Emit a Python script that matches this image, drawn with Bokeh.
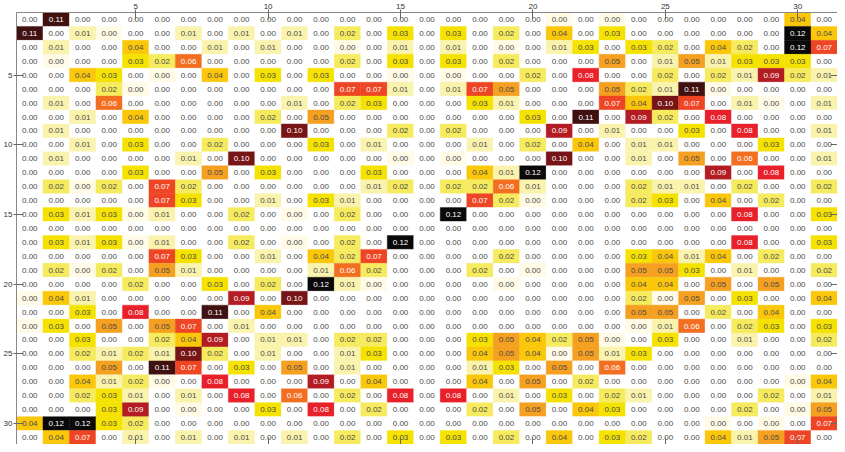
import numpy as np
from bokeh.plotting import figure
from bokeh.models import ColumnDataSource, LinearColorMapper, LinearAxis, FixedTicker, Range1d
from bokeh.transform import transform
from bokeh.embed import file_html
from bokeh.resources import INLINE
from bokeh.core.properties import value

labels = list(range(1, 32))
tick_values = [5, 10, 15, 20, 25, 30]

values = [
    [0, .11, 0, 0, 0, 0, 0, 0, 0, 0, 0, 0, 0, 0, 0, 0, 0, 0, 0, 0, .003, 0, .003, 0, 0, 0, 0, 0, 0, .04, 0],
    [.11, 0, .01, .003, 0, 0, .01, 0, .01, 0, .01, 0, .02, 0, .03, 0, .03, 0, .02, 0, .04, 0, .03, 0, 0, 0, 0, 0, 0, .12, .04],
    [0, .01, 0, 0, .04, 0, 0, .01, 0, .01, 0, 0, .003, 0, .01, 0, .01, 0, .003, 0, .01, .03, 0, .03, .02, 0, .04, .02, 0, .12, .07],
    [0, .003, 0, 0, .03, .02, .06, 0, 0, 0, 0, 0, .02, 0, .03, 0, .03, 0, .02, 0, 0, 0, .05, 0, .01, .05, .01, .03, .03, .03, 0],
    [0, 0, .04, .03, 0, .003, 0, .04, 0, .03, 0, .03, 0, 0, .003, 0, .003, 0, 0, .02, 0, .08, 0, 0, .02, 0, .02, .01, .09, .02, .01],
    [0, 0, 0, .02, .003, 0, 0, 0, 0, 0, 0, 0, .07, .07, .01, 0, .01, .07, .05, 0, 0, 0, .05, .02, .01, .11, .003, 0, 0, 0, 0],
    [0, .01, 0, .06, 0, 0, 0, 0, 0, 0, .01, 0, .02, .03, 0, 0, 0, .03, .01, 0, 0, 0, .07, .04, .10, .07, 0, .01, .003, 0, .01],
    [0, 0, .01, 0, .04, 0, 0, 0, 0, .02, 0, .05, 0, 0, 0, 0, 0, 0, 0, .03, 0, .11, 0, .09, .02, 0, .08, 0, 0, 0, 0],
    [0, .01, 0, 0, 0, 0, 0, 0, 0, 0, .10, 0, 0, 0, .02, 0, .02, 0, 0, 0, .09, 0, .01, 0, 0, .03, 0, .08, 0, 0, .01],
    [0, 0, .01, 0, .03, 0, 0, .02, 0, 0, 0, .03, 0, .01, 0, 0, 0, .01, 0, .02, 0, .04, 0, .01, .01, 0, 0, 0, .03, 0, 0],
    [0, .01, 0, 0, 0, 0, .01, 0, .10, 0, 0, 0, 0, 0, .003, 0, .003, 0, 0, 0, .10, 0, 0, .01, 0, .05, 0, .06, 0, 0, .01],
    [0, 0, 0, 0, .03, 0, 0, .05, 0, .03, 0, 0, 0, .03, 0, 0, 0, .04, .01, .12, 0, 0, 0, 0, 0, 0, .09, 0, .08, 0, 0],
    [0, .02, .003, .02, 0, .07, .02, 0, 0, 0, 0, 0, 0, .01, .02, 0, .02, .02, .06, .01, 0, 0, 0, .02, .01, .01, 0, .02, 0, 0, .02],
    [0, 0, 0, 0, 0, .07, .03, 0, 0, .01, 0, .03, .01, 0, 0, 0, 0, .07, .02, .003, 0, 0, 0, .02, .03, 0, .04, 0, .02, 0, 0],
    [0, .03, .01, .03, .003, .01, 0, 0, .02, 0, .003, 0, .02, 0, 0, 0, .12, 0, 0, 0, 0, 0, 0, 0, 0, 0, 0, .08, 0, 0, .03],
    [0, 0, 0, 0, 0, 0, 0, 0, 0, 0, 0, 0, 0, 0, 0, 0, 0, 0, 0, 0, 0, 0, 0, 0, 0, 0, 0, 0, 0, 0, 0],
    [0, .03, .01, .03, .003, .01, 0, 0, .02, 0, .003, 0, .02, 0, .12, 0, 0, 0, 0, 0, 0, 0, 0, 0, 0, 0, 0, .08, 0, 0, .03],
    [0, 0, 0, 0, 0, .07, .03, 0, 0, .01, 0, .04, .02, .07, 0, 0, 0, 0, .02, 0, 0, 0, 0, .03, .04, .01, .04, 0, .02, 0, 0],
    [0, .02, .003, .02, 0, .05, .01, 0, 0, 0, 0, .01, .06, .02, 0, 0, 0, .02, 0, .003, 0, 0, 0, .05, .05, .03, 0, .01, 0, 0, .02],
    [0, 0, 0, 0, .02, 0, 0, .03, 0, .02, 0, .12, .01, .003, 0, 0, 0, 0, .003, 0, 0, 0, 0, .04, .04, 0, .05, 0, .05, 0, 0],
    [.003, .04, .01, 0, 0, 0, 0, 0, .09, 0, .10, 0, 0, 0, 0, 0, 0, 0, 0, 0, 0, 0, 0, .02, .003, .05, 0, .03, 0, 0, .04],
    [0, 0, .03, 0, .08, 0, 0, .11, 0, .04, 0, 0, 0, 0, 0, 0, 0, 0, 0, 0, 0, 0, 0, .05, .05, 0, .02, 0, .04, 0, 0],
    [.003, .03, 0, .05, 0, .05, .07, 0, .01, 0, 0, 0, 0, 0, 0, 0, 0, 0, 0, 0, 0, 0, 0, .003, .01, .06, 0, .02, .03, 0, .03],
    [0, 0, .03, 0, 0, .02, .04, .09, 0, .01, .01, 0, .02, .02, 0, 0, 0, .03, .05, .04, .02, .05, .003, 0, .03, 0, 0, .01, 0, 0, .02],
    [0, 0, .02, .01, .02, .01, .10, .02, 0, .01, 0, 0, .01, .03, 0, 0, 0, .04, .05, .04, .003, .05, .01, .03, 0, 0, 0, 0, 0, 0, 0],
    [0, 0, 0, .05, 0, .11, .07, 0, .03, 0, .05, 0, .01, 0, 0, 0, 0, .01, .03, 0, .05, 0, .06, 0, 0, 0, 0, 0, 0, 0, 0],
    [0, 0, .04, .01, .02, .003, 0, .08, 0, 0, 0, .09, 0, .04, 0, 0, 0, .04, 0, .05, 0, .02, 0, 0, 0, 0, 0, 0, 0, .003, .04],
    [0, 0, .02, .03, .01, 0, .01, 0, .08, 0, .06, 0, .02, 0, .08, 0, .08, 0, .01, 0, .03, 0, .02, .01, 0, 0, 0, 0, .02, 0, .01],
    [0, 0, 0, .03, .09, 0, .003, 0, 0, .03, 0, .08, 0, .02, 0, 0, 0, .02, 0, .05, 0, .04, .03, 0, 0, 0, 0, .02, 0, .003, .05],
    [.04, .12, .12, .03, .02, 0, 0, 0, 0, 0, 0, 0, 0, 0, 0, 0, 0, 0, 0, 0, 0, 0, 0, 0, 0, 0, .003, 0, .003, 0, .07],
    [0, .04, .07, 0, .01, 0, .01, 0, .01, 0, .01, 0, .02, 0, .03, 0, .03, 0, .02, 0, .04, 0, .03, .02, 0, 0, .04, .01, .05, .07, 0],
]

# colour ramp (style)
anchors = [
    (0.000, "#ffffff"), (0.003, "#fffbe4"), (0.010, "#faf3ac"), (0.020, "#f6ea5c"),
    (0.030, "#f5e200"), (0.040, "#fbc70a"), (0.050, "#f5a020"), (0.060, "#f27022"),
    (0.070, "#ee4524"), (0.080, "#e8202a"), (0.090, "#b51c22"), (0.100, "#781416"),
    (0.110, "#421010"), (0.120, "#0a0808"),
]
def _rgb(h):
    return [int(h[i:i + 2], 16) for i in (1, 3, 5)]
pos = np.array([a[0] for a in anchors])
cols = np.array([_rgb(a[1]) for a in anchors], dtype=float)
grid = np.linspace(0, 0.12, 256)
palette = []
for g in grid:
    rgb = [int(round(np.interp(g, pos, cols[:, k]))) for k in range(3)]
    palette.append("#%02x%02x%02x" % tuple(rgb))
mapper = LinearColorMapper(palette=palette, low=0, high=0.12)

xs, ys, vs, txt, tcol = [], [], [], [], []
for i, row in enumerate(values):
    for j, v in enumerate(row):
        xs.append(labels[j])
        ys.append(labels[i])
        vs.append(v)
        txt.append(f"{v:.2f}")
        tcol.append("#ffffff" if v >= 0.055 else "#4a4a4a")
src = ColumnDataSource(dict(x=xs, y=ys, v=vs, t=txt, tc=tcol))

p = figure(width=837, height=444, x_range=Range1d(0.5, 31.5), y_range=Range1d(31.5, 0.5),
           x_axis_location="above", output_backend="svg", toolbar_location=None,
           min_border_left=12, min_border_right=0, min_border_top=3, min_border_bottom=0)
p.grid.visible = False
p.outline_line_color = "#888888"
p.background_fill_color = "white"

p.rect(x="x", y="y", width=1, height=1, source=src,
       fill_color=transform("v", mapper), line_color=transform("v", mapper), line_width=0.4)
p.text(x="x", y="y", text="t", source=src, text_color="tc", text_font=value("Liberation Sans"),
       text_font_size="8px", text_align="center", text_baseline="middle")

for ax in (p.xaxis[0], p.yaxis[0]):
    ax.ticker = FixedTicker(ticks=tick_values)
    ax.axis_line_color = "#888888"
    ax.major_tick_line_color = "#666666"
    ax.major_tick_in = 7
    ax.major_tick_out = 3
    ax.minor_tick_line_color = None
    ax.major_label_text_font = "Liberation Sans"
    ax.major_label_text_font_size = "8px"
    ax.major_label_text_color = "#333333"
    ax.major_label_standoff = 1

for loc in ("right", "below"):
    ax = LinearAxis(ticker=FixedTicker(ticks=tick_values))
    ax.axis_line_color = "#888888"
    ax.major_tick_line_color = "#666666"
    ax.major_tick_in = 7
    ax.major_tick_out = 0
    ax.minor_tick_line_color = None
    ax.major_label_text_font_size = "0px"
    ax.major_label_standoff = 0
    p.add_layout(ax, loc)

open("out.html", "w").write(file_html(p, INLINE))
